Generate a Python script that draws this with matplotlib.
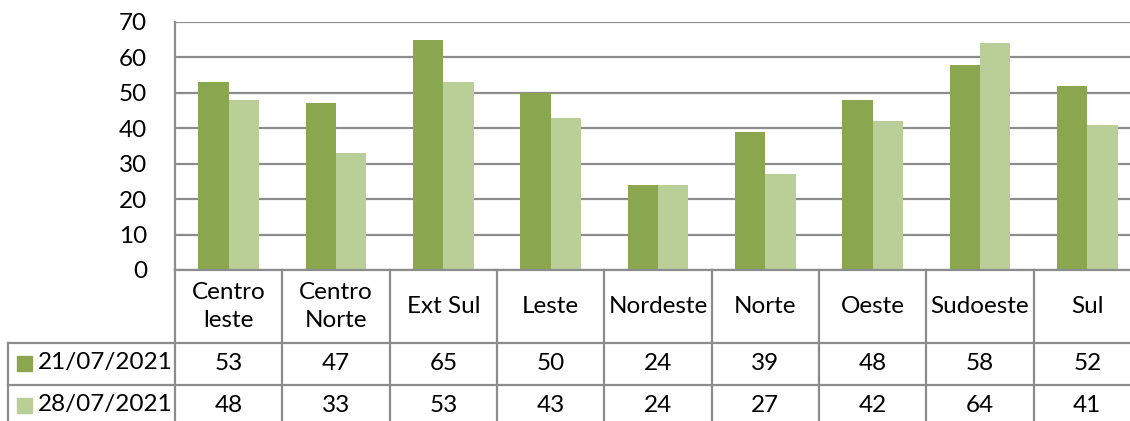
import matplotlib
matplotlib.use("Agg")
import matplotlib.pyplot as plt
import numpy as np

plt.rcParams["font.family"] = ["Lato", "DejaVu Sans"]

# data
regions = ["Centro\nleste", "Centro\nNorte", "Ext Sul", "Leste", "Nordeste",
           "Norte", "Oeste", "Sudoeste", "Sul"]
series_names = ["21/07/2021", "28/07/2021"]
week1 = [53, 47, 65, 50, 24, 39, 48, 58, 52]
week2 = [48, 33, 53, 43, 24, 27, 42, 64, 41]

colors = ["#8AA64F", "#BACF98"]
grid_color = "#8C8C8C"
fs = 17.5

W, H = 1130, 421
fig = plt.figure(figsize=(W / 100, H / 100), dpi=100)

# pixel geometry of the reference
x_left, x_right = 175, 1141     # plot area (right edge runs off the image)
y_top, y_zero = 22, 270
cell_w = (x_right - x_left) / len(regions)

ax = fig.add_axes([x_left / W, 1 - y_zero / H,
                   (x_right - x_left) / W, (y_zero - y_top) / H])
x = np.arange(len(regions))
bw = 0.284
ax.bar(x - bw / 2, week1, bw, color=colors[0], zorder=3)
ax.bar(x + bw / 2, week2, bw, color=colors[1], zorder=3)
ax.set_xlim(-0.5, len(regions) - 0.5)
ax.set_ylim(0, 70)
ax.set_yticks(range(0, 71, 10))
ax.yaxis.grid(True, color=grid_color, linewidth=1.6, zorder=0)
ax.tick_params(axis="y", length=0, pad=20, labelsize=fs)
ax.tick_params(axis="x", length=0, labelbottom=False)
for s in ["top", "right", "bottom"]:
    ax.spines[s].set_visible(False)
ax.spines["left"].set_color(grid_color)
ax.spines["left"].set_linewidth(1.6)

# data table under the plot
lbl_left = 8
tab = fig.add_axes([lbl_left / W, 0, (x_right - lbl_left) / W, (H - y_zero) / H])
tab.set_xlim(-0.5 - (x_left - lbl_left) / cell_w, len(regions) - 0.5)
tab.set_ylim(H - y_zero, 0)
tab.axis("off")
lk = dict(color=grid_color, linewidth=1.6, clip_on=False)
row_h = [73, 42, 42]
edges = np.cumsum([0] + row_h)
tab.plot([-0.5, len(regions) - 0.5], [0, 0], **lk)
for e in edges[1:3]:
    tab.plot([tab.get_xlim()[0], len(regions) - 0.5], [e, e], **lk)
for i in range(len(regions) + 1):
    tab.plot([i - 0.5, i - 0.5], [0, H - y_zero], **lk)
tab.plot([tab.get_xlim()[0]] * 2, [edges[1], H - y_zero], **lk)

for i, r in enumerate(regions):
    tab.text(i, edges[1] / 2, r, ha="center", va="center", fontsize=fs,
             linespacing=1.4)
for row, (name, vals, c) in enumerate(zip(series_names, [week1, week2], colors)):
    yc = (edges[row + 1] + edges[row + 2]) / 2 - 1
    for i, v in enumerate(vals):
        tab.text(i, yc, str(v), ha="center", va="center", fontsize=fs)
    x0 = tab.get_xlim()[0]
    tab.add_patch(plt.Rectangle((x0 + 9 / cell_w, yc - 7.5), 15 / cell_w, 15,
                                color=c, clip_on=False))
    tab.text(x0 + 30 / cell_w, yc, name, ha="left", va="center", fontsize=fs)

fig.savefig("out.png", dpi=100)
